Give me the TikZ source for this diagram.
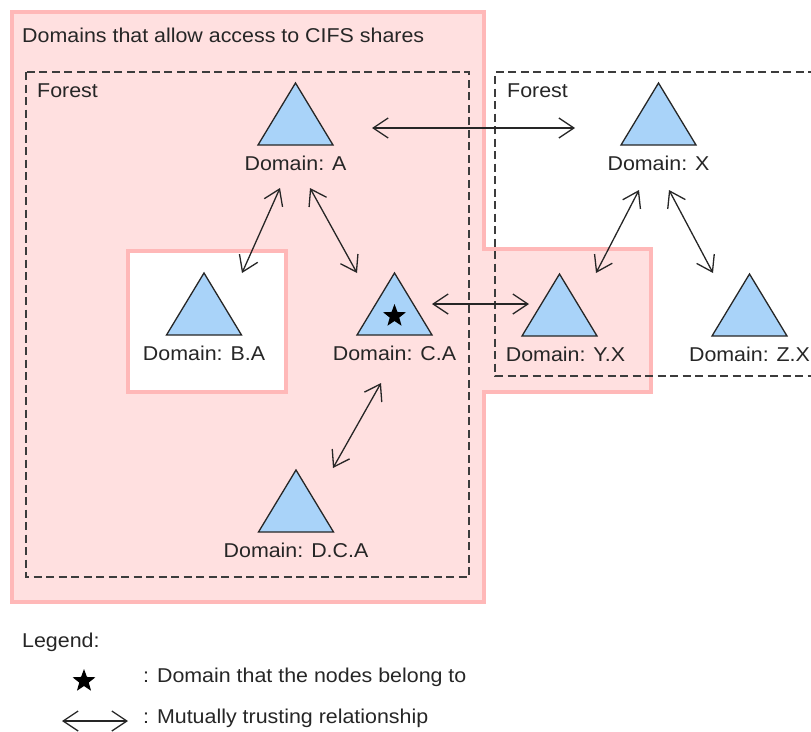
\documentclass[tikz,border=0pt]{standalone}
\usepackage{fontspec}
\setmainfont{Liberation Sans}[FakeStretch=1.07]
\usetikzlibrary{arrows.meta,shapes.geometric}
\definecolor{pinkfill}{HTML}{FFE0E0}
\definecolor{pinkline}{HTML}{FFB8B8}
\definecolor{trifill}{HTML}{A9D3F9}
\definecolor{dashcol}{HTML}{3C3C3C}
\tikzset{
  region/.style={draw=pinkline,line width=4.5pt,line join=miter},
  forestbox/.style={draw=dashcol,line width=1.6pt,dash pattern=on 8pt off 4.5pt},
  tri/.style={draw=black!85,line width=1.3pt,fill=trifill,line join=miter},
  lbl/.style={font=\fontsize{20}{24}\selectfont,text=black!85,inner sep=0pt,anchor=base},
  txt/.style={font=\fontsize{20}{24}\selectfont,text=black!85,inner sep=0pt,anchor=base west},
  trust/.style={draw=black!85,line width=1.3pt,{Straight Barb[length=15pt,width=20pt,line width=1.3pt]}-{Straight Barb[length=15pt,width=20pt,line width=1.3pt]}},
  starmark/.style={star,star points=5,star point ratio=2.4,fill=black,inner sep=0pt,minimum size=24pt}
}
\newcommand\domtri[5][0]{%
  \draw[tri] ({#3-37.5},{#4+62}) -- (#3,#4) -- ({#3+37.5},{#4+62}) -- cycle;
  \node[lbl] (#2) at ({#3+#1},{#4+87}) {#5};
}
\begin{document}
\begin{tikzpicture}[x=1pt,y=-1pt]
\useasboundingbox (0,0) rectangle (811,731);
% pink region
\path[fill=pinkfill,region] (12,12) -- (484,12) -- (484,249) -- (651,249) -- (651,392) -- (484,392) -- (484,602) -- (12,602) -- cycle;
\path[fill=white,region] (128,251) rectangle (286,392);
% forests
\draw[forestbox] (26,72) rectangle (469,577);
\draw[forestbox] (816,72) -- (495,72) -- (495,376) -- (816,376);
% titles
\node[txt] (title) at (22,42) {Domains that allow access to CIFS shares};
\node[txt] (forL) at (37,97) {Forest};
\node[txt] (forR) at (507,97) {Forest};
% domains
\domtri{A}{295.5}{83}{Domain: A}
\domtri{X}{658.5}{83}{Domain: X}
\domtri{BA}{204}{273}{Domain: B.A}
\domtri{CA}{394.5}{273}{Domain: C.A}
\domtri[6]{YX}{559.5}{274}{Domain: Y.X}
\domtri{ZX}{749.5}{274}{Domain: Z.X}
\domtri{DCA}{296}{470}{Domain: D.C.A}
\node[starmark] (star) at (394.5,316) {};
% connector end points
\coordinate (a1) at (372,128);   \coordinate (x1) at (575,128);
\coordinate (a2) at (280,188);   \coordinate (ba1) at (242,273);
\coordinate (a3) at (310,188);   \coordinate (ca1) at (357,273);
\coordinate (ca2) at (432,304);  \coordinate (yx1) at (529,304);
\coordinate (ca3) at (381,383);  \coordinate (dca1) at (333,468);
\coordinate (x2) at (639,190);   \coordinate (yx2) at (596,273);
\coordinate (x3) at (669,190);   \coordinate (zx1) at (713,273);
\draw[trust] (a1) -- (x1);
\draw[trust] (a2) -- (ba1);
\draw[trust] (a3) -- (ca1);
\draw[trust] (ca2) -- (yx1);
\draw[trust] (ca3) -- (dca1);
\draw[trust] (x2) -- (yx2);
\draw[trust] (x3) -- (zx1);
% legend
\node[txt] (leg) at (22,647) {Legend:};
\node[starmark] (lstar) at (84,681) {};
\node[txt] (legstar) at (143,682) {: Domain that the nodes belong to};
\coordinate (lg1) at (62,721); \coordinate (lg2) at (128,721);
\draw[trust] (lg1) -- (lg2);
\node[txt] (legarrow) at (143,723) {: Mutually trusting relationship};
\end{tikzpicture}
\end{document}
